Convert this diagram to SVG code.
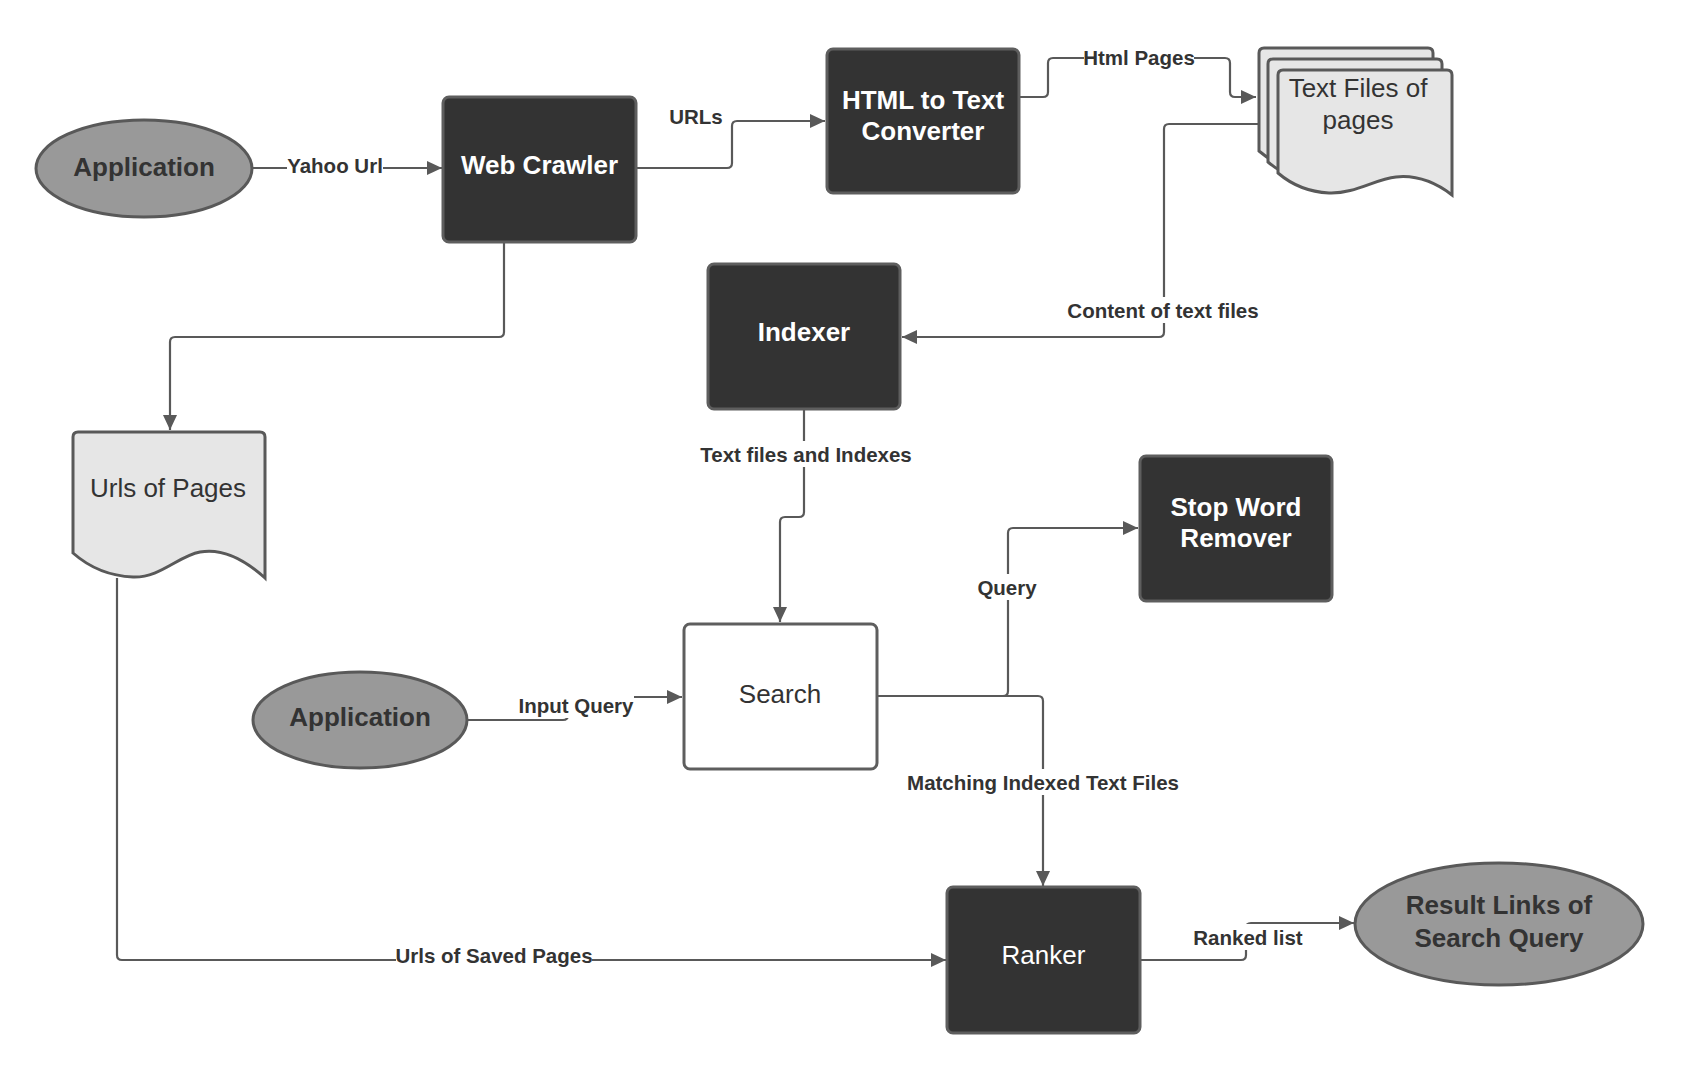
<svg xmlns="http://www.w3.org/2000/svg" xmlns:xlink="http://www.w3.org/1999/xlink" width="1691" height="1080" viewBox="0 0 1691 1080">
<style>
.dark{fill:#333333;stroke:#5e5e5e;stroke-width:3}
.white{fill:#ffffff;stroke:#5e5e5e;stroke-width:3}
.ell{fill:#999999;stroke:#595959;stroke-width:3}
.doc{fill:#e6e6e6;stroke:#595959;stroke-width:3}
.nt{font-family:"Liberation Sans",Arial,sans-serif;font-size:26px;text-anchor:middle}
.b{font-weight:bold}
.w{fill:#ffffff}
.g{fill:#333333}
.conn path{fill:none;stroke:#595959;stroke-width:2.2;marker-end:url(#arr)}
.lbl{font-family:"Liberation Sans",Arial,sans-serif;font-size:20.5px;font-weight:bold;fill:#333333;text-anchor:middle}
.lb{fill:#ffffff}
</style>
<defs>
<marker id="arr" markerUnits="userSpaceOnUse" markerWidth="16" markerHeight="14" refX="15" refY="7" orient="auto">
<path d="M0,0 L15,7 L0,14 Z" fill="#595959"/>
</marker>
<path id="page" d="M1278,75 Q1278,70 1283,70 H1447 Q1452,70 1452,75 V195 C1435,182 1415,175 1396,177 C1375,179 1355,194 1329,193 C1310,192 1292,185 1278,173 Z"/>
</defs>
<rect width="1691" height="1080" fill="#ffffff"/>

<g id="connectors" class="conn">
<path d="M252,168 H442"/>
<path d="M636,168 H727 Q732,168 732,163 V126 Q732,121 737,121 H825"/>
<path d="M1019,97 H1043 Q1048,97 1048,92 V63 Q1048,58 1053,58 H1225 Q1230,58 1230,63 V92 Q1230,97 1235,97 H1256"/>
<path d="M1259,124 H1169 Q1164,124 1164,129 V332 Q1164,337 1159,337 H902"/>
<path d="M504,242 V332 Q504,337 499,337 H175 Q170,337 170,342 V430"/>
<path d="M804,410 V512 Q804,517 799,517 H785 Q780,517 780,522 V622"/>
<path d="M877,696 H1003 Q1008,696 1008,691 V533 Q1008,528 1013,528 H1138"/>
<path d="M877,696 H1038 Q1043,696 1043,701 V886"/>
<path d="M467,720 H563 Q568,720 568,715 V702 Q568,697 573,697 H682"/>
<path d="M117,578 V955 Q117,960 122,960 H946"/>
<path d="M1140,960 H1241 Q1246,960 1246,955 V928 Q1246,923 1251,923 H1354"/>
</g>

<g id="labels">
<rect class="lb" x="287" y="152" width="96" height="26"/>
<text class="lbl" x="335" y="173">Yahoo Url</text>
<text class="lbl" x="696" y="124">URLs</text>
<rect class="lb" x="1084" y="44" width="110" height="26"/>
<text class="lbl" x="1139" y="65">Html Pages</text>
<rect class="lb" x="1067" y="297" width="192" height="26"/>
<text class="lbl" x="1163" y="318">Content of text files</text>
<rect class="lb" x="698" y="441" width="216" height="26"/>
<text class="lbl" x="806" y="462">Text files and Indexes</text>
<rect class="lb" x="977" y="574" width="60" height="26"/>
<text class="lbl" x="1007" y="595">Query</text>
<rect class="lb" x="905" y="769" width="276" height="26"/>
<text class="lbl" x="1043" y="790">Matching Indexed Text Files</text>
<rect class="lb" x="518" y="692" width="116" height="26"/>
<text class="lbl" x="576" y="713">Input Query</text>
<rect class="lb" x="396" y="942" width="196" height="26"/>
<text class="lbl" x="494" y="963">Urls of Saved Pages</text>
<rect class="lb" x="1193" y="924" width="110" height="26"/>
<text class="lbl" x="1248" y="945">Ranked list</text>
</g>

<g id="app1">
<ellipse class="ell" cx="144" cy="168.5" rx="108" ry="48.5"/>
<text class="nt b g" x="144" y="176">Application</text>
</g>

<g id="webcrawler">
<rect class="dark" x="443" y="97" width="193" height="145" rx="6"/>
<text class="nt b w" x="539.5" y="174">Web Crawler</text>
</g>

<g id="html2text">
<rect class="dark" x="827" y="49" width="192" height="144" rx="6"/>
<text class="nt b w" x="923" y="109">HTML to Text</text>
<text class="nt b w" x="923" y="140">Converter</text>
</g>

<g id="textfiles">
<use xlink:href="#page" href="#page" class="doc" transform="translate(-19,-22)"/>
<use xlink:href="#page" href="#page" class="doc" transform="translate(-10,-11)"/>
<use xlink:href="#page" href="#page" class="doc"/>
<text class="nt g" x="1358" y="97">Text Files of</text>
<text class="nt g" x="1358" y="129">pages</text>
</g>

<g id="indexer">
<rect class="dark" x="708" y="264" width="192" height="145" rx="6"/>
<text class="nt b w" x="804" y="341">Indexer</text>
</g>

<g id="urlsofpages">
<path class="doc" d="M73,437 Q73,432 78,432 H260 Q265,432 265,437 V578 C243,558 222,548 200,552 C178,556 160,578 133,577 C110,576 90,568 73,553 Z"/>
<text class="nt g" x="168" y="497">Urls of Pages</text>
</g>

<g id="stopword">
<rect class="dark" x="1140" y="456" width="192" height="145" rx="6"/>
<text class="nt b w" x="1236" y="516">Stop Word</text>
<text class="nt b w" x="1236" y="547">Remover</text>
</g>

<g id="search">
<rect class="white" x="684" y="624" width="193" height="145" rx="6"/>
<text class="nt g" x="780" y="703">Search</text>
</g>

<g id="app2">
<ellipse class="ell" cx="360" cy="720" rx="107" ry="48"/>
<text class="nt b g" x="360" y="726">Application</text>
</g>

<g id="ranker">
<rect class="dark" x="947" y="887" width="193" height="146" rx="6"/>
<text class="nt w" x="1043.5" y="964">Ranker</text>
</g>

<g id="result">
<ellipse class="ell" cx="1499" cy="924" rx="144" ry="61"/>
<text class="nt b g" x="1499" y="914">Result Links of</text>
<text class="nt b g" x="1499" y="947">Search Query</text>
</g>
</svg>
